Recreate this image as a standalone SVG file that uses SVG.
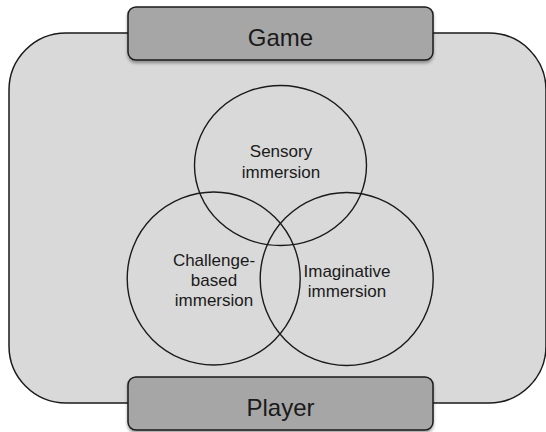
<svg xmlns="http://www.w3.org/2000/svg" width="546" height="432" viewBox="0 0 546 432">
  <defs>
    <filter id="shadow" x="-10%" y="-20%" width="120%" height="150%">
      <feDropShadow dx="0" dy="2.5" stdDeviation="1.8" flood-color="#000" flood-opacity="0.35"/>
    </filter>
  </defs>
  <style>
    .outer { fill: #d9d9d9; stroke: #1a1a1a; stroke-width: 1.5; }
    .box { fill: #a6a6a6; stroke: #1a1a1a; stroke-width: 1.5; filter: url(#shadow); }
    .ring { fill: none; stroke: #1a1a1a; stroke-width: 1.4; }
    .big { font-family: "Liberation Sans", Arial, sans-serif; font-size: 24px; fill: #1a1a1a; text-anchor: middle; }
    .lbl { font-family: "Liberation Sans", Arial, sans-serif; font-size: 17px; fill: #1a1a1a; text-anchor: middle; }
  </style>
  <rect width="546" height="432" fill="#ffffff"/>
  <g id="container">
    <rect class="outer" x="9" y="33" width="537" height="370" rx="57" ry="57"/>
  </g>
  <g id="connectors">
    <ellipse id="sensory-ring" class="ring" cx="280.5" cy="165.5" rx="86" ry="80"/>
    <circle id="challenge-ring" class="ring" cx="213.7" cy="278.5" r="86.5"/>
    <circle id="imaginative-ring" class="ring" cx="346.7" cy="279" r="86.5"/>
  </g>
  <g id="game">
    <rect class="box" x="128" y="7" width="305" height="53" rx="8" ry="8"/>
    <text class="big" x="280.5" y="46">Game</text>
  </g>
  <g id="player">
    <rect class="box" x="128" y="377" width="305" height="53" rx="8" ry="8"/>
    <text class="big" x="280.5" y="416">Player</text>
  </g>
  <g id="sensory">
    <text class="lbl" x="281" y="157">Sensory</text>
    <text class="lbl" x="281" y="178">immersion</text>
  </g>
  <g id="challenge">
    <text class="lbl" x="214" y="266">Challenge-</text>
    <text class="lbl" x="214" y="286">based</text>
    <text class="lbl" x="214" y="306">immersion</text>
  </g>
  <g id="imaginative">
    <text class="lbl" x="347" y="277">Imaginative</text>
    <text class="lbl" x="347" y="297">immersion</text>
  </g>
</svg>
